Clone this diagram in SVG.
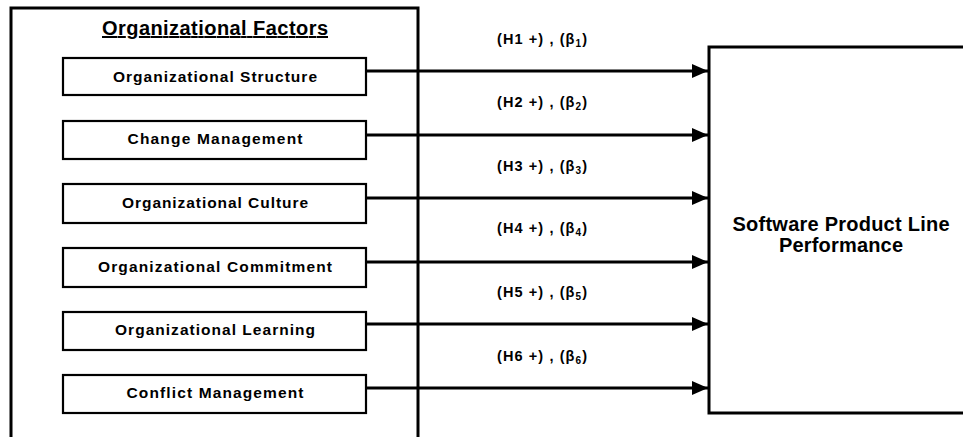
<svg xmlns="http://www.w3.org/2000/svg" width="963" height="437" viewBox="0 0 963 437">
<style>
.frame{fill:#fff;stroke:#000;stroke-width:3}
.box{fill:#fff;stroke:#000;stroke-width:2.2}
.lbl{font-family:"Liberation Sans",Arial,sans-serif;font-weight:bold;font-size:15.5px;fill:#000;text-anchor:middle}
.hyp{font-family:"Liberation Sans",Arial,sans-serif;font-weight:bold;font-size:14.5px;fill:#000}
.title{font-family:"Liberation Sans",Arial,sans-serif;font-weight:bold;font-size:20px;fill:#000;text-anchor:middle}
.conn{stroke:#000;stroke-width:3;fill:none}
</style>
<defs>
<marker id="ah" viewBox="0 0 16 14" refX="16" refY="7" markerWidth="16" markerHeight="14" markerUnits="userSpaceOnUse" orient="auto">
<path d="M0,0 L16,7 L0,14 Z" fill="#000"/>
</marker>
</defs>
<rect width="963" height="437" fill="#fff"/>
<g id="org-factors">
<rect class="frame" x="11" y="8" width="407" height="440"/>
<text class="title" x="215" y="35" textLength="226" lengthAdjust="spacing" text-decoration="underline">Organizational Factors</text>
</g>
<g id="spl-performance">
<rect class="frame" x="709" y="47" width="270" height="366"/>
<text class="title" x="841" y="231" textLength="217" lengthAdjust="spacing">Software Product Line</text>
<text class="title" x="841" y="252" textLength="124" lengthAdjust="spacing">Performance</text>
</g>
<g id="n1"><rect class="box" x="63" y="58" width="303" height="37"/><text class="lbl" x="215" y="81.5" textLength="204" lengthAdjust="spacing">Organizational Structure</text></g>
<g id="n2"><rect class="box" x="63" y="121" width="303" height="38"/><text class="lbl" x="215" y="144" textLength="175" lengthAdjust="spacing">Change Management</text></g>
<g id="n3"><rect class="box" x="63" y="184" width="303" height="39"/><text class="lbl" x="215" y="207.5" textLength="186" lengthAdjust="spacing">Organizational Culture</text></g>
<g id="n4"><rect class="box" x="63" y="248" width="303" height="39"/><text class="lbl" x="215" y="271.5" textLength="234" lengthAdjust="spacing">Organizational Commitment</text></g>
<g id="n5"><rect class="box" x="63" y="312" width="303" height="38"/><text class="lbl" x="215" y="335" textLength="200" lengthAdjust="spacing">Organizational Learning</text></g>
<g id="n6"><rect class="box" x="63" y="375" width="303" height="38"/><text class="lbl" x="215" y="398" textLength="177" lengthAdjust="spacing">Conflict Management</text></g>
<g id="connectors">
<line class="conn" x1="366" y1="71" x2="708" y2="71" marker-end="url(#ah)"/>
<line class="conn" x1="366" y1="135" x2="708" y2="135" marker-end="url(#ah)"/>
<line class="conn" x1="366" y1="198" x2="708" y2="198" marker-end="url(#ah)"/>
<line class="conn" x1="366" y1="262" x2="708" y2="262" marker-end="url(#ah)"/>
<line class="conn" x1="366" y1="324" x2="708" y2="324" marker-end="url(#ah)"/>
<line class="conn" x1="366" y1="388" x2="708" y2="388" marker-end="url(#ah)"/>
<text class="hyp" x="497" y="44" textLength="90" lengthAdjust="spacing">(H1 +) , (β<tspan font-size="10" dy="3">1</tspan><tspan dy="-3">)</tspan></text>
<text class="hyp" x="497" y="107" textLength="90" lengthAdjust="spacing">(H2 +) , (β<tspan font-size="10" dy="3">2</tspan><tspan dy="-3">)</tspan></text>
<text class="hyp" x="497" y="171" textLength="90" lengthAdjust="spacing">(H3 +) , (β<tspan font-size="10" dy="3">3</tspan><tspan dy="-3">)</tspan></text>
<text class="hyp" x="497" y="233" textLength="90" lengthAdjust="spacing">(H4 +) , (β<tspan font-size="10" dy="3">4</tspan><tspan dy="-3">)</tspan></text>
<text class="hyp" x="497" y="297" textLength="90" lengthAdjust="spacing">(H5 +) , (β<tspan font-size="10" dy="3">5</tspan><tspan dy="-3">)</tspan></text>
<text class="hyp" x="497" y="361" textLength="90" lengthAdjust="spacing">(H6 +) , (β<tspan font-size="10" dy="3">6</tspan><tspan dy="-3">)</tspan></text>
</g>
</svg>
